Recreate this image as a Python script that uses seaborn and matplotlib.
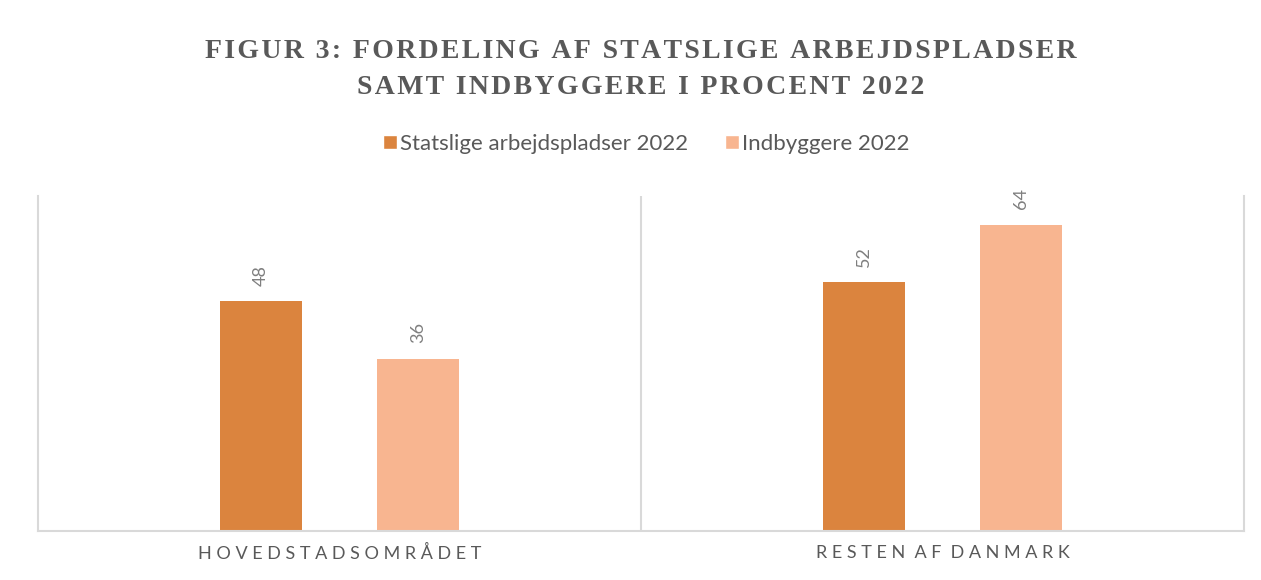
import matplotlib
matplotlib.use("Agg")
import matplotlib.pyplot as plt
import seaborn as sns
import pandas as pd

categories = ["HOVEDSTADSOMRÅDET", "RESTEN AF DANMARK"]
series = ["Statslige arbejdspladser 2022", "Indbyggere 2022"]
jobs_2022 = [48, 52]
residents_2022 = [36, 64]
colors = ["#DB843E", "#F8B590"]
title_lines = ["FIGUR 3: FORDELING AF STATSLIGE ARBEJDSPLADSER",
               "SAMT INDBYGGERE I PROCENT 2022"]

df = pd.DataFrame({
    "Område": categories * 2,
    "Serie": [series[0]] * len(categories) + [series[1]] * len(categories),
    "Procent": jobs_2022 + residents_2022,
})

sns.set_theme(style="white")
plt.rcParams['font.family'] = ['Lato', 'DejaVu Sans']

W, H = 1261, 580
fig = plt.figure(figsize=(W / 100, H / 100), dpi=100)
fig.patch.set_facecolor("white")
ax = fig.add_axes([38 / W, 1 - 531 / H, (1244 - 38) / W, (531 - 196) / H])

sns.barplot(data=df, x="Område", y="Procent", hue="Serie", order=categories,
            hue_order=series, palette=colors, width=0.52, ax=ax,
            saturation=1, errorbar=None)

bar_w = 0.136
for cont in ax.containers:
    for bar in cont:
        c = bar.get_x() + bar.get_width() / 2
        bar.set_width(bar_w)
        bar.set_x(c - bar_w / 2)
        bar.set_edgecolor("none")
    ax.bar_label(cont, fmt="%g", rotation=90, padding=11, color="#7F7F7F",
                 fontsize=13)

handles, labels = ax.get_legend_handles_labels()
if ax.get_legend() is not None:
    ax.get_legend().remove()
leg = fig.legend(handles, labels, loc="center", bbox_to_anchor=(646 / W, 1 - 144 / H),
                 ncol=2, frameon=False, fontsize=16, handlelength=0.63,
                 handleheight=0.63, handletextpad=0.15, columnspacing=1.65,
                 borderaxespad=0)
for t in leg.get_texts():
    t.set_color("#595959")

def spaced(s):
    return "  ".join(" ".join(w) for w in s.split(" "))

ax.set_xlim(-0.5, len(categories) - 0.5)
ax.set_ylim(0, 70)
ax.set_yticks([])
ax.set_xticks(range(len(categories)))
ax.set_xticklabels([spaced(c) for c in categories], fontsize=13, color="#595959")
ax.tick_params(axis="x", length=0, pad=10)
ax.set_xlabel("")
ax.set_ylabel("")
for side in ["left", "right", "bottom"]:
    ax.spines[side].set_visible(True)
    ax.spines[side].set_color("#D9D9D9")
    ax.spines[side].set_linewidth(1.5)
ax.spines["top"].set_visible(False)
ax.axvline(0.5, color="#D9D9D9", linewidth=1.5)

for i, line in enumerate(title_lines):
    fig.text(641 / W, 1 - (52 + 36 * i) / H, "\u200a".join(line), ha="center", va="center",
             fontsize=20, fontweight="bold", family=["Liberation Serif", "DejaVu Serif"],
             color="#595959")

fig.savefig("out.png", dpi=100, facecolor="white")
